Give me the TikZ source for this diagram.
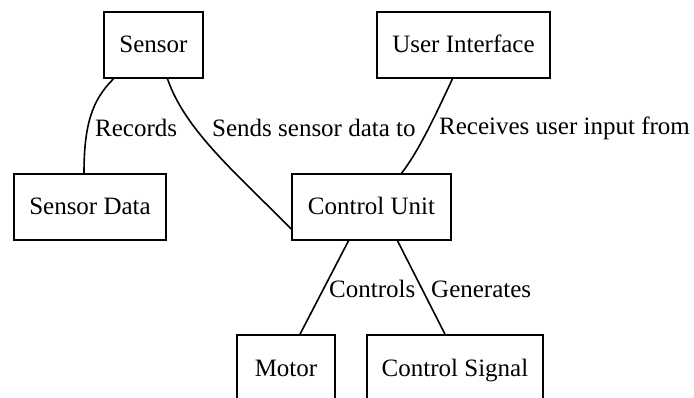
\documentclass[tikz,border=0pt]{standalone}
\usepackage{fontspec}
\setmainfont{Liberation Serif}
\begin{document}
\begin{tikzpicture}[x=1pt,y=-1pt,
  box/.style={draw,line width=1.6pt,inner sep=0pt,minimum height=66pt,text height=18pt,text depth=2pt,font=\fontsize{25}{30}\selectfont},
  conn/.style={line width=1.6pt},
  lbl/.style={anchor=west,inner sep=0pt,font=\fontsize{25}{30}\selectfont}]
\clip (0,0) rectangle (694,398);
\fill[white] (0,0) rectangle (694,398);
\node[box,minimum width=99pt] (sensor) at (153.5,45) {Sensor};
\node[box,minimum width=173pt] (ui) at (463.5,45) {User Interface};
\node[box,minimum width=152pt] (sdata) at (90,207) {Sensor Data};
\node[box,minimum width=159pt] (cu) at (371.5,207) {Control Unit};
\node[box,minimum width=98pt] (motor) at (286,368) {Motor};
\node[box,minimum width=176pt] (csig) at (455,368) {Control Signal};
\draw[conn] ([xshift=-40pt]sensor.south) .. controls (92,100) and (84,125) .. ([xshift=-6pt]sdata.north);
\draw[conn] ([xshift=14pt]sensor.south) .. controls (185,130) and (235,172) .. ([yshift=-22pt]cu.west);
\draw[conn] ([xshift=-11pt]ui.south) .. controls (440,105) and (420,150) .. ([xshift=30pt]cu.north);
\draw[conn] ([xshift=-23pt]cu.south) -- ([xshift=14pt]motor.north);
\draw[conn] ([xshift=26pt]cu.south) -- ([xshift=-10pt]csig.north);
\node[lbl] (l1) at (95,128) {Records};
\node[lbl] (l2) at (212,128) {Sends sensor data to};
\node[lbl] (l3) at (439,128) {Receives user input from};
\node[lbl] (l4) at (329,289) {Controls};
\node[lbl] (l5) at (431,289) {Generates};
\end{tikzpicture}
\end{document}
